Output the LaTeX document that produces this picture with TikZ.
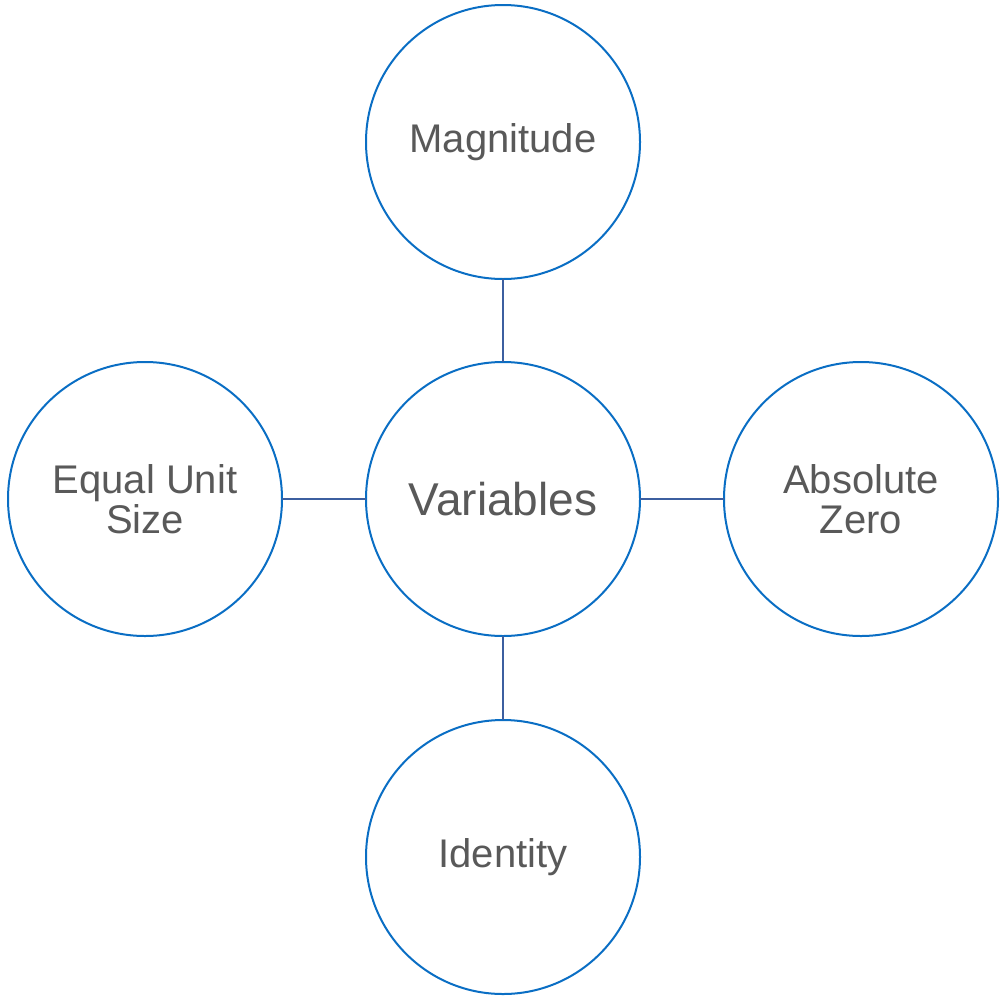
\documentclass[tikz,border=0pt]{standalone}
\usepackage{fontspec}
\setmainfont{Liberation Sans}
\definecolor{ringblue}{HTML}{0A6EC4}
\definecolor{linkblue}{HTML}{3C5FA0}
\definecolor{textgray}{HTML}{595959}
\begin{document}
\begin{tikzpicture}[x=1pt,y=-1pt,
  bubble/.style={circle,draw=ringblue,line width=2pt,minimum size=274pt,inner sep=0pt,outer sep=0pt,
    text=textgray,font=\fontsize{40}{40}\selectfont,align=center},
  hub/.style={bubble,font=\fontsize{46}{48}\selectfont},
  link/.style={draw=linkblue,line width=2pt}]
\useasboundingbox (0,0) rectangle (1000,996);
\node[hub] (var) at (503,499) {Variables};
\node[bubble] (mag) at (503,142) {Magnitude};
\node[bubble] (idn) at (503,857) {Identity};
\node[bubble] (equ) at (145,499) {Equal Unit\\Size};
\node[bubble] (abs) at (861,499) {Absolute\\Zero};
\draw[link] (mag) -- (var);
\draw[link] (var) -- (idn);
\draw[link] (equ) -- (var);
\draw[link] (var) -- (abs);
\end{tikzpicture}
\end{document}
